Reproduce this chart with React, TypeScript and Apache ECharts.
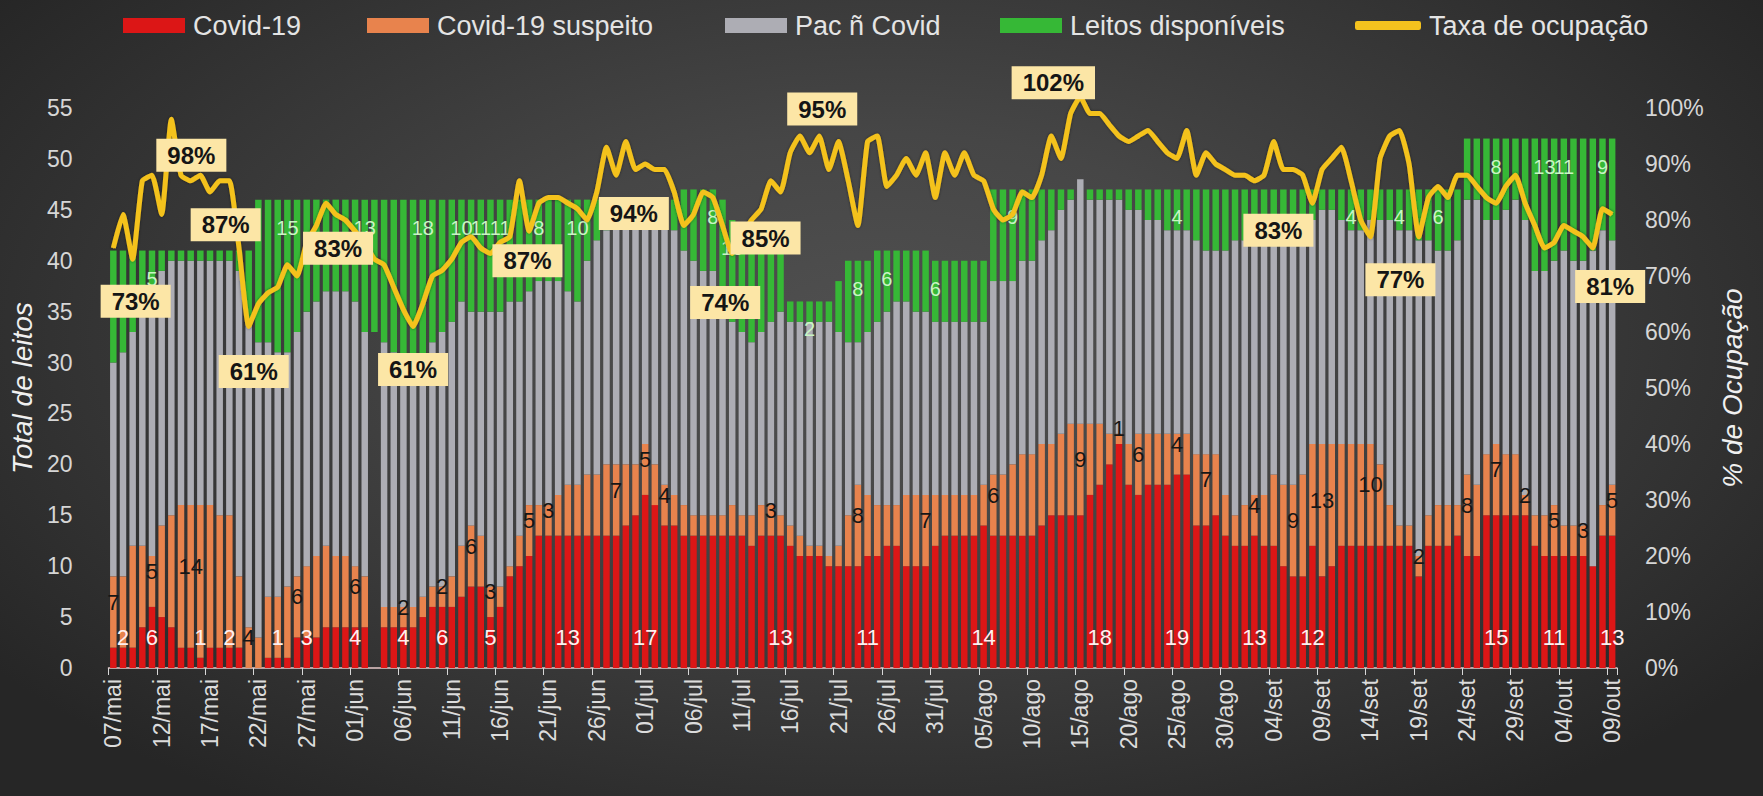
import React, { useEffect, useRef } from 'react';
import * as echarts from 'echarts';

// ---------- categories ----------
const meses = ['mai', 'jun', 'jul', 'ago', 'set', 'out'];
const mesInicio = [7, 1, 1, 1, 1, 1];
const mesFim = [31, 30, 31, 31, 30, 9];
const dias: string[] = [];
meses.forEach((m, k) => {
  for (let d = mesInicio[k]; d <= mesFim[k]; d++) dias.push(`${String(d).padStart(2, '0')}/${m}`);
});

// ---------- series values (one per day, 07/mai .. 09/out) ----------
const covid = [
  2, 2, 2, 4, 6, 5, 4, 2, 2, 1,
  2, 2, 2, 2, 0, 0, 1, 1, 1, 3,
  3, 3, 4, 4, 4, 4, 4, 0, 4, 4,
  4, 4, 5, 6, 6, 6, 7, 8, 8, 5,
  6, 9, 10, 11, 13, 13, 13, 13, 13, 13,
  13, 13, 13, 14, 15, 17, 16, 14, 14, 13,
  13, 13, 13, 13, 13, 13, 12, 13, 13, 13,
  12, 11, 11, 11, 10, 10, 10, 10, 11, 11,
  12, 12, 10, 10, 10, 12, 13, 13, 13, 13,
  14, 13, 13, 13, 13, 13, 14, 15, 15, 15,
  15, 17, 18, 20, 22, 18, 17, 18, 18, 18,
  19, 19, 14, 14, 15, 13, 12, 12, 13, 12,
  12, 10, 9, 9, 12, 9, 10, 12, 12, 12,
  12, 12, 12, 12, 12, 9, 12, 12, 12, 13,
  11, 11, 15, 15, 15, 15, 15, 12, 11, 11,
  11, 11, 11, 10, 13, 13,
];
const suspeito = [
  7, 7, 10, 8, 5, 9, 11, 14, 14, 15,
  14, 13, 13, 7, 4, 3, 6, 6, 7, 6,
  7, 8, 8, 7, 7, 6, 5, 0, 2, 2,
  2, 2, 2, 2, 2, 3, 5, 6, 5, 3,
  2, 1, 3, 5, 3, 3, 4, 5, 5, 6,
  6, 7, 7, 6, 5, 5, 4, 4, 3, 3,
  2, 2, 2, 2, 3, 2, 3, 3, 3, 2,
  2, 2, 1, 1, 1, 2, 5, 8, 6, 5,
  4, 4, 7, 7, 7, 5, 4, 4, 4, 4,
  4, 6, 6, 7, 8, 8, 8, 7, 8, 9,
  9, 7, 6, 3, 1, 4, 6, 5, 5, 5,
  4, 4, 7, 7, 6, 4, 3, 4, 4, 5,
  7, 8, 9, 10, 10, 13, 12, 10, 10, 10,
  10, 8, 4, 2, 2, 2, 3, 4, 4, 3,
  8, 7, 6, 7, 6, 6, 2, 3, 4, 5,
  3, 3, 3, 0, 3, 5,
];
const naoCovid = [
  21, 22, 21, 25, 25, 25, 25, 24, 24, 24,
  24, 25, 25, 30, 30, 29, 25, 24, 23, 24,
  25, 25, 25, 26, 26, 26, 24, 33, 26, 25,
  24, 24, 21, 24, 25, 25, 24, 21, 22, 27,
  27, 26, 23, 21, 22, 22, 21, 19, 18, 21,
  23, 23, 24, 24, 24, 22, 24, 26, 26, 25,
  25, 24, 24, 21, 18, 18, 17, 17, 18, 20,
  20, 21, 22, 22, 23, 21, 17, 14, 16, 18,
  19, 20, 19, 18, 18, 17, 17, 17, 17, 17,
  16, 19, 19, 18, 19, 19, 20, 21, 22, 22,
  24, 22, 22, 23, 23, 23, 22, 21, 21, 20,
  20, 20, 21, 20, 20, 24, 27, 26, 25, 25,
  23, 24, 24, 25, 22, 23, 23, 22, 21, 21,
  22, 24, 28, 29, 29, 31, 27, 25, 25, 26,
  27, 28, 23, 22, 24, 25, 27, 24, 24, 24,
  27, 26, 26, 31, 27, 24,
];
const disponiveis = [
  11, 10, 8, 4, 5, 2, 1, 1, 1, 1,
  1, 1, 1, 2, 7, 14, 14, 15, 15, 13,
  11, 10, 9, 9, 9, 10, 13, 13, 14, 15,
  16, 16, 18, 14, 13, 12, 10, 11, 11, 11,
  11, 10, 10, 9, 8, 8, 8, 9, 10, 6,
  4, 3, 2, 2, 2, 2, 2, 2, 3, 6,
  7, 8, 8, 10, 10, 10, 10, 9, 8, 7,
  2, 2, 2, 2, 2, 5, 8, 8, 7, 7,
  6, 5, 5, 6, 6, 6, 6, 6, 6, 6,
  6, 9, 9, 9, 7, 7, 5, 4, 2, 1,
  0, 1, 1, 1, 1, 2, 2, 3, 3, 4,
  4, 4, 5, 6, 6, 6, 5, 5, 5, 5,
  5, 5, 5, 3, 3, 2, 2, 3, 4, 4,
  3, 3, 3, 4, 4, 5, 5, 6, 6, 5,
  6, 6, 8, 8, 7, 6, 8, 13, 13, 12,
  11, 12, 12, 11, 9, 10,
];
const taxa = [
  75, 81, 73, 87, 88, 81, 98, 88, 87, 88,
  85, 87, 87, 75, 61, 65, 67, 68, 72, 70,
  76, 79, 83, 81, 80, 78, 76, 73, 72, 68,
  64, 61, 65, 70, 71, 73, 76, 77, 75, 74,
  76, 77, 87, 78, 83, 84, 84, 83, 82, 80,
  85, 93, 88, 94, 89, 90, 89, 89, 85, 79,
  81, 85, 84, 79, 74, 77, 80, 82, 87, 85,
  92, 95, 92, 95, 89, 94, 87, 79, 94, 95,
  86, 88, 91, 88, 92, 84, 92, 88, 92, 88,
  87, 82, 80, 81, 85, 84, 88, 95, 91, 99,
  102, 99, 99, 97, 95, 94, 95, 96, 94, 92,
  91, 96, 88, 92, 90, 89, 88, 88, 87, 88,
  94, 89, 89, 88, 83, 89, 91, 93, 87, 80,
  77, 91, 95, 96, 90, 77, 84, 86, 84, 88,
  88, 86, 84, 83, 86, 88, 83, 79, 75, 76,
  79, 78, 77, 75, 82, 81,
];

// days whose values are labelled in the reference
const covidRotulos = [1, 4, 9, 12, 17, 20, 25, 30, 34, 39, 47, 55, 69, 78, 90, 102, 110, 118, 124, 143, 149, 155];
const suspeitoRotulos = [0, 4, 8, 14, 19, 25, 30, 34, 37, 39, 43, 45, 52, 55, 57, 68, 77, 84, 91, 100, 104, 106, 110, 113, 118, 122, 125, 130, 135, 140, 143, 146, 149, 152, 155];
const disponiveisRotulos = [4, 18, 26, 32, 36, 38, 40, 44, 48, 62, 64, 72, 77, 80, 85, 93, 110, 128, 133, 137, 143, 148, 150, 154];
const taxaRotulos = [2, 6, 11, 14, 22, 31, 42, 53, 64, 69, 73, 100, 124, 130, 155];
const diasSemBarra = [27];

// label box offsets (styling) for the occupancy labels, same order as taxaRotulos
const taxaOffsets: [number, number][] = [
  [3, 42], [20, 36], [6, 44], [5, 45], [12, 45], [0, 43], [8, 80], [8, 72],
  [-7, 49], [-15, 46], [3, -27], [-27, -14], [-34, 27], [30, 43], [-2, 72],
];

const FONT = "'Liberation Sans', Arial, Helvetica, sans-serif";
const AMARELO = '#f4c21e';

function barData(values: number[], rotulos: number[], label: any, hidden: number[] = []) {
  return values.map((v, i) => {
    const item: any = { value: v };
    if (rotulos.includes(i)) item.label = { show: true, ...label };
    if (hidden.includes(i)) item.itemStyle = { color: 'rgba(0,0,0,0)' };
    return item;
  });
}

function buildOption(): any {
  const lineData = taxa.map((v, i) => {
    const k = taxaRotulos.indexOf(i);
    if (k < 0) return v;
    return {
      value: v,
      label: {
        show: true,
        position: 'inside',
        offset: taxaOffsets[k],
        formatter: '{c}%',
        backgroundColor: '#fce6a6',
        color: '#151515',
        fontSize: 24,
        fontWeight: 'bold',
        fontFamily: FONT,
        padding: [5, 11, 4, 11],
      },
    };
  });

  const legendBase: any = {
    top: 7,
    itemWidth: 62,
    itemHeight: 15,
    selectedMode: false,
    itemGap: 0,
    textStyle: { color: '#e4e4e4', fontSize: 27, fontFamily: FONT, padding: [0, 0, 0, 3] },
  };

  const barCommon: any = {
    type: 'bar',
    stack: 'leitos',
    barCategoryGap: '33%',
    yAxisIndex: 0,
  };

  return {
    animation: false,
    backgroundColor: 'transparent',
    textStyle: { fontFamily: FONT },
    legend: [
      { ...legendBase, left: 118, data: [{ name: 'Covid-19', icon: 'rect' }] },
      { ...legendBase, left: 362, data: [{ name: 'Covid-19 suspeito', icon: 'rect' }] },
      { ...legendBase, left: 720, data: [{ name: 'Pac ñ Covid', icon: 'rect' }] },
      { ...legendBase, left: 995, data: [{ name: 'Leitos disponíveis', icon: 'rect' }] },
      { ...legendBase, left: 1350, itemWidth: 66, itemHeight: 9, data: [{ name: 'Taxa de ocupação', icon: 'roundRect' }] },
    ],
    grid: { left: 108, right: 146, top: 108, bottom: 128, containLabel: false },
    xAxis: {
      type: 'category',
      data: dias,
      boundaryGap: true,
      axisLine: { lineStyle: { color: '#e7caca', width: 1.5 } },
      axisTick: { show: true, interval: 4, length: 7, lineStyle: { color: '#d8d8d8' } },
      axisLabel: { interval: 4, rotate: 90, color: '#dcdcdc', fontSize: 23, margin: 11, fontFamily: FONT },
      splitLine: { show: false },
    },
    yAxis: [
      {
        type: 'value',
        min: 0,
        max: 55,
        interval: 5,
        splitLine: { show: false },
        axisLine: { show: false },
        axisTick: { show: false },
        axisLabel: { color: '#d6d6d6', fontSize: 23, margin: 36, fontFamily: FONT },
        name: 'Total de leitos',
        nameLocation: 'middle',
        nameRotate: 90,
        nameGap: 55,
        nameTextStyle: { color: '#f0f0f0', fontSize: 28, fontStyle: 'italic', fontFamily: FONT },
      },
      {
        type: 'value',
        min: 0,
        max: 100,
        interval: 10,
        position: 'right',
        splitLine: { show: false },
        axisLine: { show: false },
        axisTick: { show: false },
        axisLabel: { color: '#d6d6d6', fontSize: 23, margin: 28, formatter: '{value}%', fontFamily: FONT },
        name: '% de Ocupação',
        nameLocation: 'middle',
        nameRotate: 90,
        nameGap: 101,
        nameTextStyle: { color: '#f0f0f0', fontSize: 28, fontStyle: 'italic', fontFamily: FONT },
      },
    ],
    series: [
      {
        ...barCommon,
        name: 'Covid-19',
        itemStyle: { color: '#dc1616' },
        data: barData(covid, covidRotulos, {
          position: 'insideBottom', distance: 20, color: '#fff0f0', fontSize: 22, fontFamily: FONT,
        }),
      },
      {
        ...barCommon,
        name: 'Covid-19 suspeito',
        itemStyle: { color: '#e8834d' },
        data: barData(suspeito, suspeitoRotulos, {
          position: 'inside', offset: [0, -10], color: '#161616', fontSize: 22, fontFamily: FONT,
        }),
      },
      {
        ...barCommon,
        name: 'Pac ñ Covid',
        itemStyle: { color: '#adadb4' },
        data: barData(naoCovid, [], {}, diasSemBarra),
      },
      {
        ...barCommon,
        name: 'Leitos disponíveis',
        itemStyle: { color: '#36b836' },
        data: barData(disponiveis, disponiveisRotulos, {
          position: 'insideTop', distance: 18, color: '#c9f5c4', fontSize: 20, fontFamily: FONT,
        }),
      },
      {
        name: 'Taxa de ocupação',
        type: 'line',
        yAxisIndex: 1,
        data: lineData,
        smooth: 0.15,
        symbol: 'circle',
        symbolSize: 1,
        showSymbol: true,
        showAllSymbol: true,
        clip: false,
        z: 10,
        color: AMARELO,
        lineStyle: { color: AMARELO, width: 5, shadowColor: 'rgba(0,0,0,0.45)', shadowBlur: 3 },
        itemStyle: { color: AMARELO },
      },
    ],
  };
}

export default function App() {
  const ref = useRef<HTMLDivElement>(null);
  useEffect(() => {
    if (!ref.current) return;
    const chart = echarts.init(ref.current, undefined, { renderer: 'svg' });
    chart.setOption(buildOption());
    return () => chart.dispose();
  }, []);
  return (
    <div
      ref={ref}
      style={{
        position: 'absolute',
        left: 0,
        top: 0,
        width: 1763,
        height: 796,
        background:
          'radial-gradient(ellipse 62% 72% at 50% 42%, #505050 0%, #464646 35%, #363636 68%, #262626 100%)',
      }}
    />
  );
}
